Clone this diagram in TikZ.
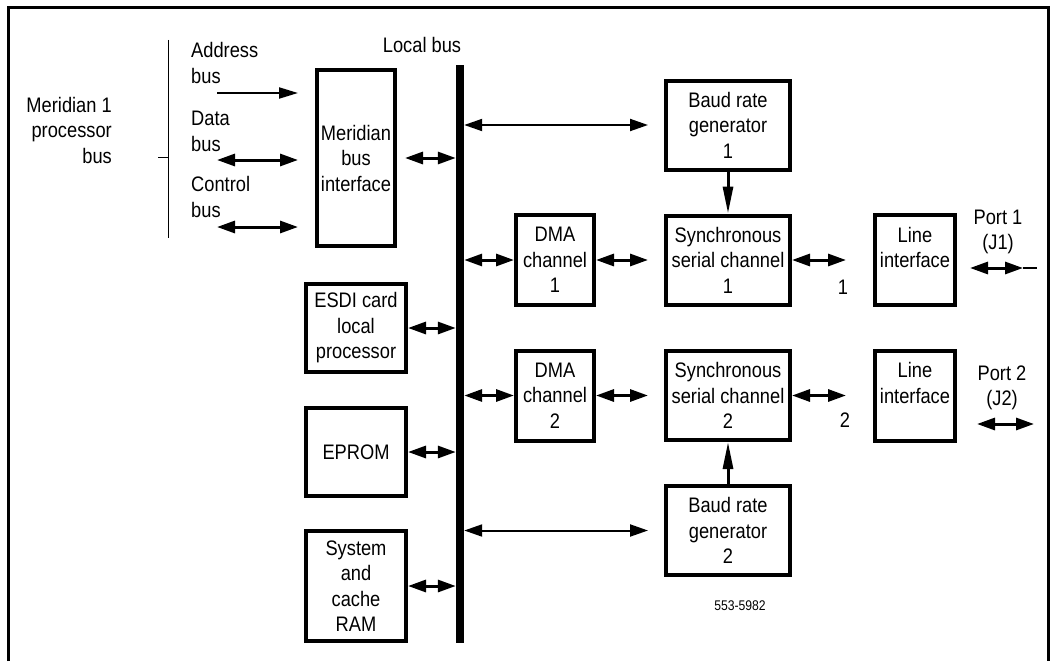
\documentclass[tikz,border=0pt]{standalone}
\usepackage{fontspec}
\setmainfont[FakeStretch=0.87]{Liberation Sans}
\usetikzlibrary{arrows.meta,positioning}

\begin{document}
\begin{tikzpicture}[on grid,x=1pt,y=-1pt,
    box/.style={draw,line width=4pt,inner sep=0pt,align=center,
      minimum width=124pt,minimum height=89pt,
      font=\fontsize{21}{25.5}\selectfont},
    txt/.style={inner sep=0pt,font=\fontsize{21}{25.5}\selectfont},
    onearrow/.style={line width=2pt,-{Triangle[length=19pt,width=11pt]}},
    twoarrow/.style={line width=3pt,
      {Triangle[length=18pt,width=12pt]}-{Triangle[length=18pt,width=12pt]}},
    longarrow/.style={twoarrow,line width=2pt},
    clkarrow/.style={line width=3pt,-{Triangle[length=27pt,width=10pt]}}]
    \useasboundingbox (0,0) rectangle (1054,661);

    % frame, open at the bottom
    \draw[line width=3pt] (8.5,661) -- (8.5,7.5) -- (1048,7.5) -- (1048,661);

    % Meridian 1 processor bus
    \node[txt,align=right,anchor=east] (mproc) at (112,130) {Meridian 1\\processor\\bus};
    \draw[line width=1pt] (168,40) -- (168,238) (158,157) -- (168,157);
    \node[txt,align=left,anchor=west] (addrlbl) at (191,63) {Address\\bus};
    \node[txt,align=left,anchor=west] (datalbl) at (191,131.5) {Data\\bus};
    \node[txt,align=left,anchor=west] (ctrllbl) at (191,197) {Control\\bus};
    \coordinate (addr) at (217,93);
    \coordinate (data) at (217,160);
    \coordinate (ctrl) at (217,227);

    % local bus and left column
    \node[fill,inner sep=0pt,minimum width=8pt,minimum height=578pt] (lbus) at (460,354) {};
    \node[txt] (lbuslbl) at (422,45) {Local bus};
    \node[box,minimum width=78pt,minimum height=176pt] (mbi) at (356,158) {Meridian\\bus\\interface};
    \node[box,minimum width=100pt,minimum height=88pt] (esdi) at (356,328) {ESDI card\\local\\processor};
    \node[box,minimum width=100pt,minimum height=88pt] (eprom) at (356,452) {EPROM};
    \node[box,minimum width=100pt,minimum height=110pt] (ram) at (356,586) {System\\and\\cache\\RAM};

    % channel 1
    \node[box,minimum width=78pt,minimum height=90pt] (dma1) at (555,260) {DMA\\channel\\1};
    \node[box,right=173pt of dma1] (ssc1) {Synchronous\\serial channel\\1};
    \node[box,above=135pt of ssc1] (baud1) {Baud rate\\generator\\1};
    \node[box,minimum width=80pt,minimum height=90pt,right=187pt of ssc1] (li1) {Line\\interface\\\mbox{}};
    \node[txt] (n1) at (843,287) {1};
    \node[txt,align=center] (port1) at (998,232) {Port 1\\(J1)};
    \coordinate (p1a) at (970,268);
    \coordinate (p1b) at (1023,268);
    \coordinate (p1c) at (1037,268);

    % channel 2
    \node[box,minimum width=78pt,minimum height=90pt] (dma2) at (555,395.5) {DMA\\channel\\2};
    \node[box,right=173pt of dma2] (ssc2) {Synchronous\\serial channel\\2};
    \node[box,below=135pt of ssc2] (baud2) {Baud rate\\generator\\2};
    \node[box,minimum width=80pt,minimum height=90pt,right=187pt of ssc2] (li2) {Line\\interface\\\mbox{}};
    \node[txt] (n2) at (845,420) {2};
    \node[txt,align=center] (port2) at (1002,388) {Port 2\\(J2)};
    \coordinate (p2a) at (977,424);
    \coordinate (p2b) at (1034,424);

    \node[inner sep=0pt,font=\fontsize{14}{16}\selectfont] (fignum) at (740,606) {553-5982};

    % connectors
    \draw[onearrow,shorten >=17pt] (addr) -- (addr -| mbi.west);
    \draw[twoarrow,shorten >=17pt] (data) -- (data -| mbi.west);
    \draw[twoarrow,shorten >=17pt] (ctrl) -- (ctrl -| mbi.west);
    \draw[twoarrow,shorten <=8pt] (mbi.east) -- (mbi.east -| lbus.west);
    \draw[twoarrow] (esdi.east) -- (esdi.east -| lbus.west);
    \draw[twoarrow] (eprom.east) -- (eprom.east -| lbus.west);
    \draw[twoarrow] (ram.east) -- (ram.east -| lbus.west);

    \draw[longarrow,shorten >=16pt] (baud1.west -| lbus.east) -- (baud1.west);
    \draw[twoarrow] (dma1.west -| lbus.east) -- (dma1.west);
    \draw[twoarrow,shorten >=16pt] (dma1.east) -- (ssc1.west);
    \draw[twoarrow,shorten >=27pt] (ssc1.east) -- (li1.west);
    \draw[clkarrow] (baud1.south) -- (ssc1.north);
    \draw[twoarrow] (p1a) -- (p1b);
    \draw[line width=2.5pt] (p1b) -- (p1c);

    \draw[longarrow,shorten >=16pt] (baud2.west -| lbus.east) -- (baud2.west);
    \draw[twoarrow] (dma2.west -| lbus.east) -- (dma2.west);
    \draw[twoarrow,shorten >=16pt] (dma2.east) -- (ssc2.west);
    \draw[twoarrow,shorten >=27pt] (ssc2.east) -- (li2.west);
    \draw[clkarrow] (baud2.north) -- (ssc2.south);
    \draw[twoarrow] (p2a) -- (p2b);
\end{tikzpicture}
\end{document}
